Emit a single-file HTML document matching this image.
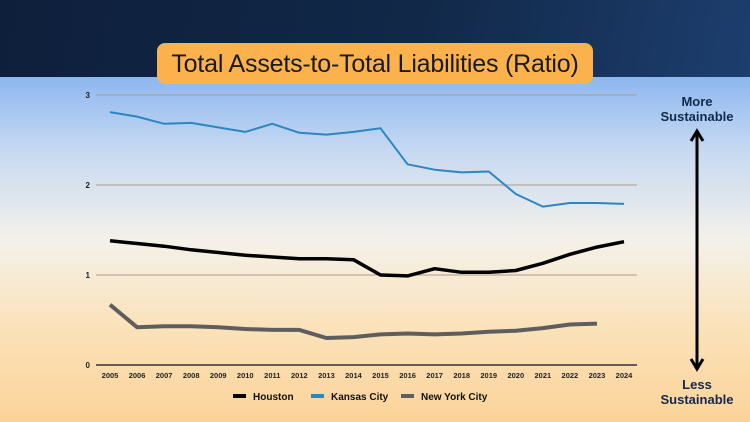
<!DOCTYPE html>
<html><head><meta charset="utf-8"><style>
body{margin:0;width:750px;height:422px;overflow:hidden;font-family:"Liberation Sans",sans-serif}
#bg{position:absolute;left:0;top:0;width:750px;height:422px;background:linear-gradient(#8db7ef 77px,#c6d9f2 150px,#f4f1ea 240px,#fbe3bd 320px,#fbd399 422px)}
#top{position:absolute;left:0;top:0;width:750px;height:77px;background:linear-gradient(100deg,#0e1f3b 0%,#112848 55%,#1d3e6e 100%)}
#title{position:absolute;left:157px;top:43px;width:436px;height:41px;background:#fbb24d;border-radius:8px;font-size:25px;color:#1a1a1a;text-align:center;line-height:42px;letter-spacing:-0.2px}
.side{position:absolute;left:652px;width:90px;text-align:center;font-weight:bold;font-size:13px;color:#13294b;line-height:15px}
</style></head><body>
<div id="bg"></div>
<div id="top"></div>
<div id="title">Total Assets-to-Total Liabilities (Ratio)</div>
<div class="side" style="top:94px">More<br>Sustainable</div>
<div class="side" style="top:377px">Less<br>Sustainable</div>
<svg id="chart" width="750" height="422" style="position:absolute;left:0;top:0">
<g>
<line x1="697" y1="134" x2="697" y2="366" stroke="#000" stroke-width="3"/>
<path d="M691,141 L697,131 L703,141" fill="none" stroke="#000" stroke-width="3"/>
<path d="M691,359 L697,369 L703,359" fill="none" stroke="#000" stroke-width="3"/>
</g>
</svg>
<script>
const years=["2005","2006","2007","2008","2009","2010","2011","2012","2013","2014","2015","2016","2017","2018","2019","2020","2021","2022","2023","2024"];
const houston=[1.38,1.35,1.32,1.28,1.25,1.22,1.20,1.18,1.18,1.17,1.00,0.99,1.07,1.03,1.03,1.05,1.13,1.23,1.31,1.37];
const kansasCity=[2.81,2.76,2.68,2.69,2.64,2.59,2.68,2.58,2.56,2.59,2.63,2.23,2.17,2.14,2.15,1.90,1.76,1.80,1.80,1.79];
const newYork=[0.67,0.42,0.43,0.43,0.42,0.40,0.39,0.39,0.30,0.31,0.34,0.35,0.34,0.35,0.37,0.38,0.41,0.45,0.46];
const yTicks=[0,1,2,3];
const svg=document.getElementById('chart');
const NS='http://www.w3.org/2000/svg';
const X=i=>110+i*(624-110)/19;
const Y=v=>365-v*90;
function mk(t,a){const e=document.createElementNS(NS,t);for(const k in a)e.setAttribute(k,a[k]);svg.appendChild(e);return e;}
yTicks.forEach(t=>{
  if(t>0){const g=mk('line',{x1:96,x2:637,y1:Y(t),y2:Y(t),stroke:'#b09a8a','stroke-width':1});
  
  }
  const l=mk('text',{x:90,y:Y(t)+3,'font-size':8,'font-weight':'bold',fill:'#222','text-anchor':'end'});
  l.textContent=t;
  
  
});
const ax=mk('line',{x1:96,x2:637,y1:365,y2:365,stroke:'#333','stroke-width':1.5});


years.forEach((y,i)=>{
  const l=mk('text',{x:X(i),y:378,'font-size':7.5,'font-weight':'bold',fill:'#222','text-anchor':'middle'});
  l.textContent=y;
  
  
});
function series(arr,color,w,name){
  const p=mk('polyline',{points:arr.map((v,i)=>X(i)+','+Y(v)).join(' '),fill:'none',stroke:color,'stroke-width':w,'stroke-linejoin':'round'});
  
  
}
series(kansasCity,'#2e86c1',2,'kansas-city-line');
series(houston,'#000',3.5,'houston-line');
series(newYork,'#5e5e5e',4,'new-york-city-line');
const leg=[['Houston','#000',233],['Kansas City','#2e86c1',311],['New York City','#5e5e5e',401]];
leg.forEach(d=>{
  const r=mk('rect',{x:d[2],y:394,width:13,height:4,fill:d[1]});
  
  
  const t=mk('text',{x:d[2]+20,y:400,'font-size':10,'font-weight':'bold',fill:'#111'});
  t.textContent=d[0];
  
  
});
</script>
</body></html>
